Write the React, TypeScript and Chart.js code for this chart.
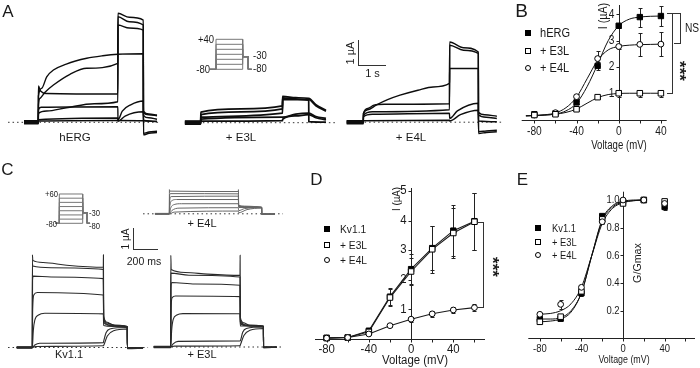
import React, { useEffect, useRef } from 'react';
import { Chart, registerables } from 'chart.js';
Chart.register(...registerables);

const FONT = '"Liberation Sans", Arial, Helvetica, sans-serif';

// ================= DATA =================
// Panel A current traces: [time (s), current (µA)]
const HERG_TRACES = [
  [[-0.51,0.04],[0,0.04],[0.005,1.05],[0.12,1.36],[0.3,1.82],[0.54,2.09],[1.0,2.33],[1.73,2.56],[2.3,2.66],[2.84,2.72],[3.75,2.74],[3.755,0.45],[3.95,0.33],[4.24,0.29]],
  [[-0.51,-0.02],[0,-0.02],[0.005,0.69],[0.06,0.96],[0.24,1.2],[0.54,1.49],[1.13,1.92],[1.73,2.16],[2.84,2.36],[2.845,4.36],[3.25,4.2],[3.75,4.09],[3.755,-0.5],[3.95,-0.44],[4.24,-0.41]],
  [[-0.51,0],[0,0],[0.005,1.45],[0.08,1.25],[0.3,1.15],[2.84,1.13],[2.845,4.22],[3.25,4.02],[3.75,3.89],[3.755,0.38],[3.95,0.3],[4.24,0.26]],
  [[-0.51,-0.06],[0,-0.06],[0.005,0.35],[0.3,0.45],[1.0,0.58],[2.0,0.74],[2.84,0.82],[2.845,3.89],[3.25,3.77],[3.75,3.69],[3.755,-0.44],[3.95,-0.39],[4.24,-0.36]],
  [[-0.51,0.06],[0,0.06],[0.005,0.5],[0.1,0.6],[2.84,0.62],[2.845,0.1],[3.0,0.45],[3.3,0.7],[3.75,0.85],[3.755,0.28],[3.95,0.18],[4.24,0.12]],
  [[-0.51,-0.04],[0,-0.04],[0.005,0.1],[2.84,0.17],[2.845,0.04],[3.1,0.25],[3.75,0.42],[3.755,0.08],[4.24,0.04]],
  [[-0.51,0.02],[0,0.02],[0.005,0.05],[2.84,0.07],[3.75,0.06],[4.24,0.02]],
];
const E3L_A_TRACES = [
  [[-0.55,0.04],[0,0.04],[0.005,0.42],[1.4,0.55],[2.84,0.67],[2.845,1.05],[3.3,1.0],[3.75,0.97],[4.0,0.72],[4.35,0.5]],
  [[-0.55,-0.03],[0,-0.03],[0.005,0.32],[1.4,0.43],[2.84,0.55],[2.845,0.99],[3.3,0.95],[3.75,0.93],[4.0,0.68],[4.35,0.46]],
  [[-0.55,0],[0,0],[0.005,0.22],[2.84,0.38],[2.845,0.93],[3.75,0.9],[3.755,0.04],[4.35,0.02]],
  [[-0.55,-0.06],[0,-0.06],[0.005,0.14],[2.84,0.22],[2.845,0.22],[3.3,0.34],[3.75,0.38],[4.0,0.25],[4.35,0.17]],
  [[-0.55,0.06],[0,0.06],[0.005,0.06],[2.84,0.08],[2.845,0.14],[3.3,0.27],[3.75,0.32],[4.0,0.2],[4.35,0.11]],
];
const E4L_A_TRACES = [
  [[-0.55,0.04],[0,0.04],[0.005,0.35],[0.15,0.5],[0.42,0.68],[0.8,0.9],[1.21,1.08],[1.8,1.28],[2.3,1.41],[2.84,1.55],[2.845,2.15],[3.79,2.15],[3.795,0.4],[4.0,0.3],[4.4,0.24]],
  [[-0.55,-0.03],[0,-0.03],[0.005,0.35],[0.15,0.55],[0.35,0.68],[0.7,0.72],[2.84,0.74],[2.845,3.21],[3.3,2.98],[3.79,2.81],[3.795,-0.45],[4.05,-0.41],[4.4,-0.38]],
  [[-0.55,0],[0,0],[0.005,0.28],[0.3,0.42],[2.84,0.5],[2.845,3.08],[3.3,2.88],[3.79,2.75],[3.795,0.3],[4.05,0.2],[4.4,0.15]],
  [[-0.55,-0.06],[0,-0.06],[0.005,0.22],[0.3,0.32],[2.84,0.36],[2.845,0.15],[3.1,0.45],[3.79,0.76],[3.795,-0.38],[4.05,-0.35],[4.4,-0.32]],
  [[-0.55,0.06],[0,0.06],[0.005,0.06],[2.84,0.08],[2.845,0.05],[3.2,0.3],[3.79,0.48],[3.795,0.05],[4.4,0.02]],
];
const PROTO_HOLD = -80;
const PROTO_TAIL = -30;
const PROTO_A_LEVELS = [-80, -60, -40, -20, 0, 20, 40];
const PROTO_A_TIMES = [-0.64, 0, 2.84, 3.44, 3.8];

// Panel C current traces: [time (ms), current (µA)]
const KV_C_TRACES = [
  [[-125,0.03],[0,0.03],[1,4.42],[4,4.15],[86,4.05],[275,3.92],[568,3.82],[569,4.42],[571,1.5],[600,1.2],[650,1.05],[760,1.0],[761,-0.06],[886,-0.04]],
  [[-125,-0.02],[0,-0.02],[1,4.0],[4,3.88],[150,3.8],[568,3.72],[571,1.4],[610,1.15],[680,1.02],[760,1.0],[761,-0.05],[886,-0.03]],
  [[-125,0],[0,0],[2,3.2],[8,3.4],[150,3.36],[568,3.28],[571,1.3],[620,1.08],[760,1.0],[761,-0.05],[886,-0.03]],
  [[-125,0.02],[0,0.02],[3,1.8],[12,2.5],[40,2.62],[568,2.5],[571,1.2],[620,1.05],[760,0.99],[761,-0.04],[886,-0.03]],
  [[-125,-0.03],[0,-0.03],[8,0.8],[20,1.3],[50,1.55],[100,1.63],[568,1.6],[571,1.05],[640,1.0],[760,0.98],[761,-0.03],[886,-0.02]],
  [[-125,0],[0,0],[20,0.12],[60,0.2],[568,0.23],[571,0.3],[590,0.7],[620,0.88],[760,0.95],[761,-0.02],[886,-0.01]],
  [[-125,0.01],[0,0.01],[30,0.05],[568,0.08],[571,0.1],[600,0.55],[650,0.8],[760,0.88],[761,0],[886,0]],
];
const E3L_C_TRACES = [
  [[-139,0.03],[0,0.03],[1,4.37],[4,3.69],[120,3.55],[300,3.47],[568,3.41],[569,4.37],[571,1.4],[600,1.15],[650,1.02],[760,0.99],[761,-0.03],[869,-0.02]],
  [[-139,-0.02],[0,-0.02],[1,3.52],[150,3.42],[568,3.33],[571,1.3],[620,1.05],[760,0.99],[761,-0.03],[869,-0.02]],
  [[-139,0],[0,0],[2,2.8],[8,3.07],[200,3.0],[568,2.94],[571,1.2],[620,1.03],[760,0.99],[761,-0.02],[869,-0.02]],
  [[-139,0.02],[0,0.02],[3,1.8],[12,2.35],[40,2.43],[568,2.4],[571,1.1],[640,1.0],[760,0.98],[761,-0.02],[869,-0.01]],
  [[-139,-0.03],[0,-0.03],[8,0.8],[20,1.3],[50,1.52],[100,1.59],[568,1.58],[571,1.0],[760,0.98],[761,-0.02],[869,-0.01]],
  [[-139,0],[0,0],[20,0.15],[60,0.27],[568,0.29],[571,0.3],[590,0.7],[620,0.88],[760,0.95],[761,0],[869,0]],
  [[-139,0.01],[0,0.01],[30,0.04],[568,0.06],[571,0.1],[600,0.55],[650,0.8],[760,0.88],[761,0],[869,0]],
];
const E4L_C_TRACES = [
  [[-118,0.02],[0,0.02],[1,1.15],[4,1.08],[568,1.06],[569,1.15],[571,0.42],[620,0.34],[760,0.31],[761,-0.03],[870,-0.03]],
  [[-118,-0.02],[0,-0.02],[2,0.85],[8,0.96],[568,0.95],[571,0.4],[640,0.32],[760,0.31],[761,-0.03],[870,-0.03]],
  [[-118,0],[0,0],[3,0.6],[15,0.82],[568,0.84],[571,0.38],[760,0.31],[761,-0.02],[870,-0.02]],
  [[-118,0.01],[0,0.01],[5,0.4],[25,0.64],[60,0.68],[568,0.68],[571,0.35],[760,0.31],[761,-0.02],[870,-0.02]],
  [[-118,-0.01],[0,-0.01],[10,0.25],[40,0.44],[100,0.48],[568,0.48],[571,0.3],[760,0.3],[761,-0.02],[870,-0.02]],
  [[-118,0],[0,0],[20,0.15],[80,0.27],[568,0.29],[571,0.15],[620,0.25],[760,0.29],[761,0],[870,0]],
  [[-118,0],[0,0],[40,0.08],[568,0.13],[571,0.05],[640,0.2],[760,0.27],[761,0],[870,0]],
];
const PROTO_C_LEVELS = [-80, -60, -40, -20, 0, 20, 40, 60];
const PROTO_C_TIMES = [-104, 0, 568, 680, 746];

// Zero (dotted) reference line extents [start, end] in each trace panel's time units
const ZERO_HERG = [-1.08, 4.35];
const ZERO_E3L_A = [-0.55, 5.08];
const ZERO_E4L_A = [-0.55, 4.55];
const ZERO_KV_C = [-194, 926];
const ZERO_E3L_C = [-104, 920];
const ZERO_E4L_C = [-216, 936];

// Panel B: I-V (mV, µA)
const B_VOLT = [-80, -60, -40, -20, 0, 20, 40];
const B_HERG = [0.2, 0.23, 0.65, 2.04, 3.57, 3.9, 3.94];
const B_HERG_ERR = [0.03, 0.04, 0.06, 0.15, 0.08, 0.36, 0.38];
const B_E3L = [0.17, 0.2, 0.39, 0.85, 1.0, 1.0, 1.0];
const B_E3L_ERR = [0.02, 0.03, 0.04, 0.05, 0.13, 0.14, 0.14];
const B_E4L = [0.17, 0.26, 0.87, 2.32, 2.78, 2.86, 2.87];
const B_E4L_ERR = [0.03, 0.04, 0.1, 0.3, 0.1, 0.44, 0.46];
const B_FIT_VOLT = [-88, -80, -70, -60, -50, -40, -30, -20, -10, 0, 10, 20, 30, 40];
const B_FIT_HERG = [0.14, 0.15, 0.17, 0.21, 0.33, 0.62, 1.25, 2.1, 3.0, 3.57, 3.82, 3.9, 3.93, 3.94];
const B_FIT_E3L = [0.14, 0.15, 0.17, 0.2, 0.27, 0.4, 0.62, 0.83, 0.95, 0.99, 1.0, 1.0, 1.0, 1.0];
const B_FIT_E4L = [0.14, 0.15, 0.18, 0.25, 0.45, 0.85, 1.55, 2.25, 2.65, 2.78, 2.83, 2.85, 2.86, 2.87];
const B_X_TICKS = [-80, -60, -40, -20, 0, 20, 40];
const B_X_LABELS = [-80, -40, 0, 40];
const B_Y_TICKS = [1, 2, 3, 4];

// Panel D: I-V (mV, µA)
const D_VOLT = [-80, -60, -40, -20, 0, 20, 40, 60];
const D_KV = [0.04, 0.05, 0.28, 1.43, 2.36, 3.07, 3.66, 3.98];
const D_KV_ERR = [0.02, 0.03, 0.05, 0.28, 0.5, 0.75, 0.87, 0.96];
const D_E3L = [0.03, 0.05, 0.24, 1.4, 2.28, 3.03, 3.58, 3.96];
const D_E3L_ERR = [0.02, 0.03, 0.05, 0.3, 0.45, 0.8, 0.85, 0.96];
const D_E4L = [0.03, 0.05, 0.17, 0.45, 0.67, 0.85, 0.98, 1.06];
const D_E4L_ERR = [0.01, 0.01, 0.02, 0.04, 0.08, 0.1, 0.1, 0.12];
const D_X_TICKS = [-80, -60, -40, -20, 0, 20, 40, 60];
const D_X_LABELS = [-80, -40, 0, 40];
const D_Y_TICKS = [1, 2, 3, 4, 5];

// Panel E: G/Gmax
const E_VOLT = [-80, -60, -40, -20, 0, 20, 40];
const E_KV = [0.14, 0.142, 0.326, 0.884, 0.987, 1.0, 0.95];
const E_KV_ERR = [0.01, 0.01, 0.02, 0.015, 0.01, 0.005, 0.02];
const E_E3L = [0.12, 0.157, 0.34, 0.86, 0.975, 1.0, 0.99];
const E_E3L_ERR = [0.01, 0.01, 0.02, 0.015, 0.01, 0.005, 0.01];
const E_E4L = [0.174, 0.246, 0.369, 0.843, 1.0, 1.0, 0.975];
const E_E4L_ERR = [0.01, 0.03, 0.02, 0.015, 0.01, 0.005, 0.01];
const E_FIT_VOLT = [-80, -70, -60, -50, -40, -30, -20, -10, 0, 10, 20];
const E_FIT_KV = [0.14, 0.14, 0.15, 0.2, 0.33, 0.6, 0.86, 0.96, 0.99, 1.0, 1.0];
const E_FIT_E3L = [0.12, 0.125, 0.14, 0.19, 0.33, 0.6, 0.85, 0.95, 0.985, 0.995, 1.0];
const E_FIT_E4L = [0.175, 0.18, 0.2, 0.25, 0.37, 0.6, 0.83, 0.94, 0.98, 0.995, 1.0];
const E_X_TICKS = [-80, -60, -40, -20, 0, 20, 40, 60];
const E_X_LABELS = [-80, -40, 0, 40];
const E_Y_TICKS = [0.2, 0.4, 0.6, 0.8, 1.0];

// ================= LAYOUT =================
const F_HERG = { x: 0, y: 0, w: 170, h: 145, ox: 38.3, oy: 122.3, refY: 0, ppx: 28, ppy: 25 };
const F_E3L_A = { x: 170, y: 0, w: 165, h: 145, ox: 30.7, oy: 122.7, refY: 0, ppx: 28.8, ppy: 25 };
const F_E4L_A = { x: 335, y: 0, w: 175, h: 145, ox: 28.3, oy: 122.2, refY: 0, ppx: 30.35, ppy: 25 };
const F_PROTO_A = { x: 200, y: 30, w: 60, h: 45, ox: 16, oy: 39.3, refY: -80, ppx: 9.4, ppy: 0.25 };
const F_KV_C = { x: 0, y: 250, w: 150, h: 110, ox: 32.3, oy: 97.5, refY: 0, ppx: 0.125, ppy: 21 };
const F_E3L_C = { x: 150, y: 250, w: 140, h: 110, ox: 20.7, oy: 97, refY: 0, ppx: 0.122, ppy: 21 };
const F_E4L_C = { x: 140, y: 185, w: 150, h: 40, ox: 29.3, oy: 28.8, refY: 0, ppx: 0.1215, ppy: 21 };
const F_PROTO_C = { x: 40, y: 185, w: 60, h: 45, ox: 19.3, oy: 38.3, refY: -80, ppx: 0.0412, ppy: 0.2093 };

const R_B = { x: 500, y: 0, w: 200, h: 160, pad: { left: 21.7, right: 33.3, top: 1.7, bottom: 40.5 }, xr: [-92, 45.5], yr: [0, 4.36] };
const R_D = { x: 300, y: 175, w: 200, h: 193, pad: { left: 15, right: 15, top: 13, bottom: 29 }, xr: [-91, 70], yr: [0, 5.1] };
const R_E = { x: 520, y: 175, w: 180, h: 193, pad: { left: 8.3, right: 3.3, top: 16.7, bottom: 29.6 }, xr: [-91.1, 69.2], yr: [0, 1.06] };

// ================= CHART HELPERS =================
function baseOpts(xmin: number, xmax: number, ymin: number, ymax: number, padding: any) {
  return {
    animation: false,
    responsive: false,
    maintainAspectRatio: false,
    devicePixelRatio: 1,
    events: [],
    layout: { padding },
    plugins: { legend: { display: false }, tooltip: { enabled: false } },
    scales: {
      x: { type: 'linear', display: false, min: xmin, max: xmax },
      y: { type: 'linear', display: false, min: ymin, max: ymax },
    },
  };
}

function frameRange(f: any) {
  const xmin = -f.ox / f.ppx;
  const xmax = xmin + f.w / f.ppx;
  const ymax = f.refY + f.oy / f.ppy;
  const ymin = ymax - f.h / f.ppy;
  return { xmin, xmax, ymin, ymax };
}

function traceConfig(f: any, traces: number[][][], color: string, width: number, zero: number[] | null, smooth = true) {
  const r = frameRange(f);
  const datasets: any[] = traces.map((tr) => ({
    data: tr.map(([x, y]) => ({ x, y })),
    borderColor: color,
    borderWidth: width,
    pointRadius: 0,
    fill: false,
    tension: 0,
    cubicInterpolationMode: smooth ? 'monotone' : 'default',
    order: 1,
  }));
  if (zero) {
    datasets.unshift({
      data: [{ x: zero[0], y: 0 }, { x: zero[1], y: 0 }],
      borderColor: '#333', borderWidth: 1, borderDash: [1.5, 3], pointRadius: 0, tension: 0, order: 3,
    });
  }
  return { type: 'line', data: { datasets }, options: baseOpts(r.xmin, r.xmax, r.ymin, r.ymax, 0) };
}

function protoTraces(levels: number[], times: number[]) {
  const [t0, t1, t2, t3, t4] = times;
  return levels.map((v) => [
    [t0, PROTO_HOLD], [t1, PROTO_HOLD], [t1, v], [t2, v], [t2, PROTO_TAIL],
    [t3, PROTO_TAIL], [t3, PROTO_HOLD], [t4, PROTO_HOLD],
  ]);
}

function makeIvPlugin(ax: any) {
  return {
    id: 'ivAxes',
    beforeDatasetsDraw(chart: any) {
      const { ctx, chartArea: a } = chart;
      const xs = chart.scales.x, ys = chart.scales.y;
      const snap = (v: number) => Math.round(v) + 0.5;
      const x0 = snap(xs.getPixelForValue(0));
      const y0 = snap(ys.getPixelForValue(0));
      ctx.save();
      ctx.strokeStyle = '#222';
      ctx.lineWidth = 1;
      ctx.beginPath();
      ctx.moveTo(a.left, y0); ctx.lineTo(a.right, y0);
      ctx.moveTo(x0, a.top); ctx.lineTo(x0, y0);
      ax.xTicks.forEach((v: number) => { const p = snap(xs.getPixelForValue(v)); ctx.moveTo(p, y0); ctx.lineTo(p, y0 + 3); });
      ax.yTicks.forEach((v: number) => { const p = snap(ys.getPixelForValue(v)); ctx.moveTo(x0 - 3, p); ctx.lineTo(x0, p); });
      ctx.stroke();
      // error bars
      ctx.beginPath();
      chart.data.datasets.forEach((ds: any) => {
        if (!ds.errors) return;
        ds.data.forEach((pt: any, i: number) => {
          const e = ds.errors[i];
          if (!e) return;
          const px = snap(xs.getPixelForValue(pt.x));
          const t = Math.round(ys.getPixelForValue(pt.y + e)) + 0.5;
          const b = Math.round(ys.getPixelForValue(pt.y - e)) + 0.5;
          ctx.moveTo(px, t); ctx.lineTo(px, b);
          ctx.moveTo(px - 2, t); ctx.lineTo(px + 2, t);
          ctx.moveTo(px - 2, b); ctx.lineTo(px + 2, b);
        });
      });
      ctx.stroke();
      // tick labels
      ctx.fillStyle = '#1a1a1a';
      ctx.font = `${ax.size}px ${FONT}`;
      ctx.textBaseline = 'middle';
      const txt = (s: string, px: number, py: number, align: string) => {
        ctx.save(); ctx.translate(px, py); ctx.scale(ax.sx, 1);
        ctx.textAlign = align; ctx.fillText(s, 0, 0); ctx.restore();
      };
      ax.xLabels.forEach((v: number) => txt(String(v), xs.getPixelForValue(v), y0 + ax.xDy, 'center'));
      ax.yTicks.forEach((v: number) => txt(ax.fmt ? v.toFixed(ax.fmt) : String(v), x0 - ax.yDx, ys.getPixelForValue(v), 'right'));
      ctx.restore();
    },
  };
}

const FILLED_SQ = { shape: 'rect', r: 3.8, fill: '#000' };
const OPEN_SQ = { shape: 'rect', r: 3.9, fill: '#fff' };
const OPEN_CIR = { shape: 'circle', r: 2.9, fill: '#fff' };

function markerSet(xs: number[], ys: number[], errs: number[], st: any, line = false) {
  return {
    data: xs.map((x, i) => ({ x, y: ys[i] })),
    errors: errs,
    showLine: line,
    borderColor: '#1a1a1a',
    borderWidth: 1.1,
    tension: 0,
    pointStyle: st.shape,
    pointRadius: st.r,
    pointBackgroundColor: st.fill,
    pointBorderColor: '#000',
    pointBorderWidth: 1,
    order: 0,
    clip: false,
  };
}
function fitSet(xs: number[], ys: number[]) {
  return {
    data: xs.map((x, i) => ({ x, y: ys[i] })),
    borderColor: '#111', borderWidth: 1, pointRadius: 0, tension: 0,
    cubicInterpolationMode: 'monotone', order: 1, clip: false,
  };
}

function ivConfig(r: any, datasets: any[], ax: any) {
  return {
    type: 'line',
    data: { datasets },
    options: baseOpts(r.xr[0], r.xr[1], r.yr[0], r.yr[1], r.pad),
    plugins: [makeIvPlugin(ax)],
  };
}

// ================= COMPONENTS =================
function ChartCanvas({ r, make }: { r: any; make: () => any }) {
  const ref = useRef<HTMLCanvasElement>(null);
  useEffect(() => {
    const chart = new Chart(ref.current as HTMLCanvasElement, make());
    return () => chart.destroy();
  }, []);
  return (
    <canvas ref={ref} width={r.w} height={r.h}
      style={{ position: 'absolute', left: r.x, top: r.y, width: r.w, height: r.h }} />
  );
}

function T({ x, y, s, size = 11, sx = 1, al = 'c', rot = 0, bold = false }: any) {
  const tr = al === 'l' ? '0' : al === 'r' ? '-100%' : '-50%';
  const org = al === 'l' ? '0% 50%' : al === 'r' ? '100% 50%' : '50% 50%';
  return (
    <div style={{
      position: 'absolute', left: x, top: y, whiteSpace: 'nowrap', fontFamily: FONT,
      fontSize: size, lineHeight: 1, color: '#1a1a1a', fontWeight: bold ? 700 : 400,
      transformOrigin: org, transform: `translate(${tr}, -50%) rotate(${rot}deg) scaleX(${sx})`,
    }}>{s}</div>
  );
}

function HL({ x1, x2, y }: any) {
  return <div style={{ position: 'absolute', left: x1, top: Math.round(y), width: x2 - x1, height: 1, background: '#333' }} />;
}
function VL({ x, y1, y2 }: any) {
  return <div style={{ position: 'absolute', left: Math.round(x), top: y1, width: 1, height: y2 - y1, background: '#333' }} />;
}
function Mk({ x, y, kind }: any) {
  return (
    <div style={{
      position: 'absolute', left: x - 3, top: y - 3, width: 6, height: 6, boxSizing: 'border-box',
      background: kind === 'fill' ? '#000' : '#fff', border: '1px solid #000',
      borderRadius: kind === 'circle' ? '50%' : 0,
    }} />
  );
}

export default function App() {
  const axB = { xTicks: B_X_TICKS, xLabels: B_X_LABELS, yTicks: B_Y_TICKS, fmt: 0, size: 12, sx: 0.85, xDy: 11.5, yDx: 5 };
  const axD = { xTicks: D_X_TICKS, xLabels: D_X_LABELS, yTicks: D_Y_TICKS, fmt: 0, size: 12, sx: 0.95, xDy: 10.5, yDx: 5 };
  const axE = { xTicks: E_X_TICKS, xLabels: E_X_LABELS, yTicks: E_Y_TICKS, fmt: 1, size: 11.5, sx: 0.82, xDy: 10.5, yDx: 4 };

  return (
    <div style={{ position: 'absolute', left: 0, top: 0, width: 700, height: 368, background: '#fff', overflow: 'hidden' }}>
      {/* Panel A traces */}
      <ChartCanvas r={F_HERG} make={() => traceConfig(F_HERG, HERG_TRACES, '#0d0d0d', 1.4, ZERO_HERG)} />
      <ChartCanvas r={F_E3L_A} make={() => traceConfig(F_E3L_A, E3L_A_TRACES, '#0d0d0d', 1.7, ZERO_E3L_A)} />
      <ChartCanvas r={F_E4L_A} make={() => traceConfig(F_E4L_A, E4L_A_TRACES, '#0d0d0d', 1.4, ZERO_E4L_A)} />
      <ChartCanvas r={F_PROTO_A} make={() => traceConfig(F_PROTO_A, protoTraces(PROTO_A_LEVELS, PROTO_A_TIMES), '#777', 1, null, false)} />

      {/* Panel C traces */}
      <ChartCanvas r={F_KV_C} make={() => traceConfig(F_KV_C, KV_C_TRACES, '#2a2a2a', 1.1, ZERO_KV_C)} />
      <ChartCanvas r={F_E3L_C} make={() => traceConfig(F_E3L_C, E3L_C_TRACES, '#2a2a2a', 1.1, ZERO_E3L_C)} />
      <ChartCanvas r={F_E4L_C} make={() => traceConfig(F_E4L_C, E4L_C_TRACES, '#666', 1, ZERO_E4L_C)} />
      <ChartCanvas r={F_PROTO_C} make={() => traceConfig(F_PROTO_C, protoTraces(PROTO_C_LEVELS, PROTO_C_TIMES), '#777', 1, null, false)} />

      {/* Panel B */}
      <ChartCanvas r={R_B} make={() => ivConfig(R_B, [
        fitSet(B_FIT_VOLT, B_FIT_HERG), fitSet(B_FIT_VOLT, B_FIT_E3L), fitSet(B_FIT_VOLT, B_FIT_E4L),
        markerSet(B_VOLT, B_E3L, B_E3L_ERR, OPEN_SQ),
        markerSet(B_VOLT, B_E4L, B_E4L_ERR, OPEN_CIR),
        markerSet(B_VOLT, B_HERG, B_HERG_ERR, FILLED_SQ),
      ], axB)} />

      {/* Panel D */}
      <ChartCanvas r={R_D} make={() => ivConfig(R_D, [
        markerSet(D_VOLT, D_E4L, D_E4L_ERR, OPEN_CIR, true),
        markerSet(D_VOLT, D_E3L, D_E3L_ERR, OPEN_SQ, true),
        markerSet(D_VOLT, D_KV, D_KV_ERR, FILLED_SQ, true),
      ], axD)} />

      {/* Panel E */}
      <ChartCanvas r={R_E} make={() => ivConfig(R_E, [
        fitSet(E_FIT_VOLT, E_FIT_KV), fitSet(E_FIT_VOLT, E_FIT_E3L), fitSet(E_FIT_VOLT, E_FIT_E4L),
        markerSet(E_VOLT, E_E4L, E_E4L_ERR, OPEN_CIR),
        markerSet(E_VOLT, E_E3L, E_E3L_ERR, OPEN_SQ),
        markerSet(E_VOLT, E_KV, E_KV_ERR, FILLED_SQ),
      ], axE)} />

      {/* Panel letters */}
      <T x={8} y={11} s="A" size={17} />
      <T x={521.5} y={10} s="B" size={19} />
      <T x={7.5} y={169} s="C" size={17} />
      <T x={316.5} y={179} s="D" size={17} />
      <T x={522.5} y={179} s="E" size={17} />

      {/* Panel A labels */}
      <T x={75} y={138} s="hERG" size={11.5} />
      <T x={241} y={138} s="+ E3L" size={11.5} />
      <T x={411} y={138} s="+ E4L" size={11.5} />
      <T x={214} y={40} s="+40" size={10} sx={0.95} al="r" />
      <T x={209.5} y={69.5} s="-80" size={10} sx={0.95} al="r" />
      <T x={252.5} y={55.5} s="-30" size={10} sx={0.95} al="l" />
      <T x={252.5} y={68.5} s="-80" size={10} sx={0.95} al="l" />
      {/* Panel A scale bar */}
      <VL x={358} y1={40} y2={65} />
      <HL x1={358} x2={386} y={65} />
      <T x={350} y={52.5} s="1 µA" size={11} rot={-90} />
      <T x={372.5} y={73} s="1 s" size={11} />

      {/* Panel B legend, titles, significance */}
      <Mk x={528.3} y={33.3} kind="fill" />
      <Mk x={528.3} y={50.7} kind="square" />
      <Mk x={528.3} y={68.3} kind="circle" />
      <T x={540} y={33.3} s="hERG" size={12} sx={0.92} al="l" />
      <T x={540} y={50.7} s="+ E3L" size={12} sx={0.92} al="l" />
      <T x={540} y={68.3} s="+ E4L" size={12} sx={0.92} al="l" />
      <T x={619.3} y={144.5} s="Voltage (mV)" size={12} sx={0.8} />
      <T x={603} y={15.5} s="I (µA)" size={12} sx={0.89} rot={-90} />
      <HL x1={666.7} x2={681} y={13} />
      <VL x={680} y1={13} y2={43} />
      <HL x1={674} x2={681} y={42.5} />
      <VL x={671.5} y1={13} y2={94} />
      <HL x1={666.7} x2={672} y={93.3} />
      <T x={684.5} y={28} s="NS" size={12} sx={0.85} al="l" />
      <T x={678.5} y={71} s="***" size={17} bold rot={90} />

      {/* Panel C labels */}
      <T x={69} y={354} s="Kv1.1" size={11} />
      <T x={202} y={354} s="+ E3L" size={11} />
      <T x={202} y={223} s="+ E4L" size={11} />
      <T x={58} y={194.3} s="+60" size={8.5} sx={0.9} al="r" />
      <T x={56.5} y={224} s="-80" size={8.5} sx={0.9} al="r" />
      <T x={89} y={213} s="-30" size={8.5} sx={0.9} al="l" />
      <T x={89} y={225.5} s="-80" size={8.5} sx={0.9} al="l" />
      <VL x={133} y1={228.3} y2={249.5} />
      <HL x1={133} x2={158.3} y={249} />
      <T x={125.5} y={239} s="1 µA" size={10} rot={-90} />
      <T x={144} y={260.5} s="200 ms" size={10.5} />

      {/* Panel D legend, titles, significance */}
      <Mk x={326.7} y={229.3} kind="fill" />
      <Mk x={326.7} y={245} kind="square" />
      <Mk x={326.7} y={260} kind="circle" />
      <T x={340} y={229.3} s="Kv1.1" size={11} sx={0.93} al="l" />
      <T x={340} y={245} s="+ E3L" size={11} sx={0.93} al="l" />
      <T x={340} y={260} s="+ E4L" size={11} sx={0.93} al="l" />
      <T x={415} y={360} s="Voltage (mV)" size={12} sx={0.95} />
      <T x={397.3} y={198.5} s="I (µA)" size={11.5} sx={0.85} rot={-90} />
      <VL x={483.3} y1={221.5} y2={307} />
      <HL x1={476.7} x2={484} y={221.5} />
      <HL x1={476.7} x2={484} y={306.5} />
      <T x={492} y={267} s="***" size={17} bold rot={90} />

      {/* Panel E legend, titles */}
      <Mk x={538.3} y={228.3} kind="fill" />
      <Mk x={538.3} y={241.7} kind="square" />
      <Mk x={538.3} y={255} kind="circle" />
      <T x={551.7} y={228.3} s="Kv1.1" size={11} sx={0.85} al="l" />
      <T x={551.7} y={241.7} s="+ E3L" size={11} sx={0.85} al="l" />
      <T x={551.7} y={255} s="+ E4L" size={11} sx={0.85} al="l" />
      <T x={624.2} y={360} s="Voltage (mV)" size={11.5} sx={0.77} />
      <T x={638.3} y={263} s="G/Gmax" size={11.5} sx={0.93} rot={-90} />
    </div>
  );
}
